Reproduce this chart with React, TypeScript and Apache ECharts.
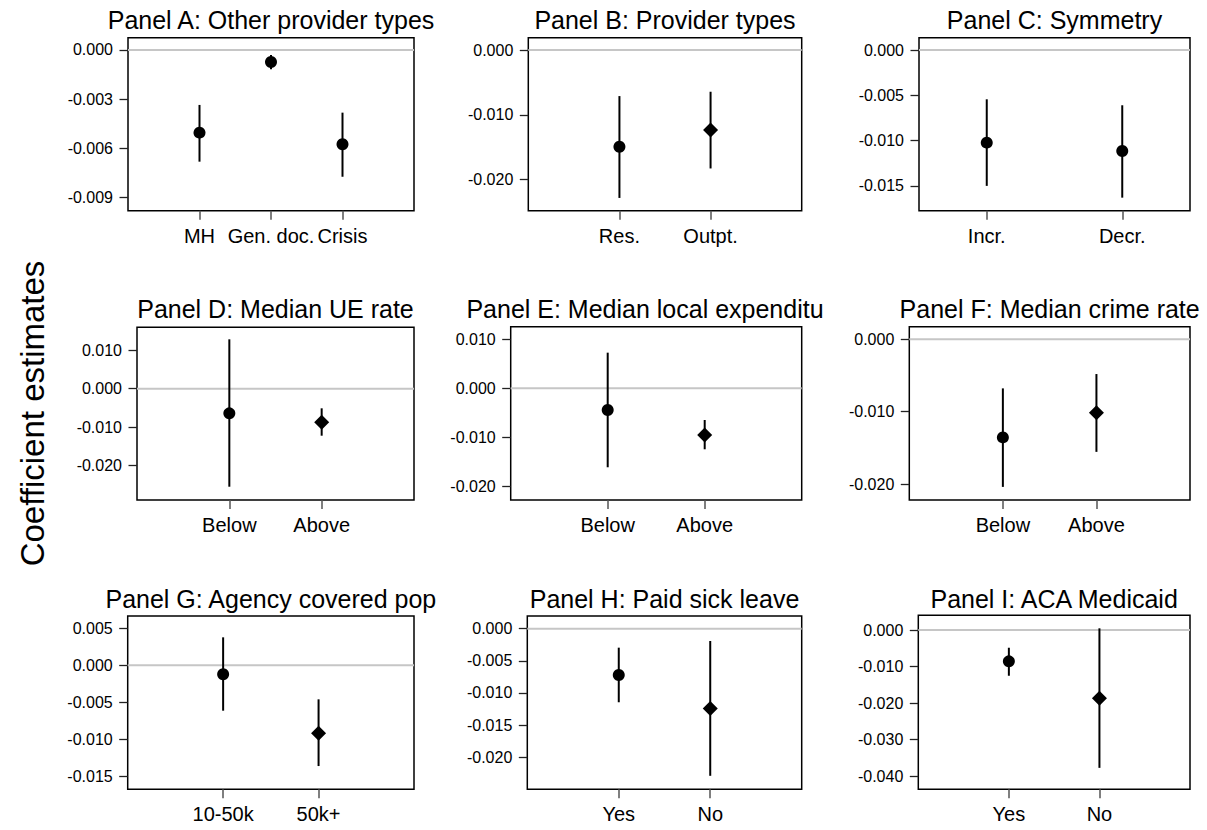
import React, { useEffect, useRef } from "react";
import * as echarts from "echarts";

const FONT = '"Liberation Sans", Arial, Helvetica, sans-serif';

// ---- Panel titles ----
const titles = [
  "Panel A: Other provider types",
  "Panel B: Provider types",
  "Panel C: Symmetry",
  "Panel D: Median UE rate",
  "Panel E: Median local expenditu",
  "Panel F: Median crime rate",
  "Panel G: Agency covered pop",
  "Panel H: Paid sick leave",
  "Panel I: ACA Medicaid",
];

// ---- Panel A: other provider types ----
const catsA = ["MH", "Gen. doc.", "Crisis"];
const estA = [-0.00504, -0.00073, -0.00575];
const lowA = [-0.00681, -0.00118, -0.00773];
const highA = [-0.00335, -0.0003, -0.00382];
const marksA = ["circle", "circle", "circle"];
const ticksA = [0, -0.003, -0.006, -0.009];

// ---- Panel B: provider types ----
const catsB = ["Res.", "Outpt."];
const estB = [-0.01494, -0.01236];
const lowB = [-0.02283, -0.01828];
const highB = [-0.00711, -0.00644];
const marksB = ["circle", "diamond"];
const ticksB = [0, -0.01, -0.02];

// ---- Panel C: symmetry ----
const catsC = ["Incr.", "Decr."];
const estC = [-0.01023, -0.01115];
const lowC = [-0.015, -0.0163];
const highC = [-0.00544, -0.0061];
const marksC = ["circle", "circle"];
const ticksC = [0, -0.005, -0.01, -0.015];

// ---- Panel D: median UE rate ----
const catsD = ["Below", "Above"];
const estD = [-0.00639, -0.00873];
const lowD = [-0.02545, -0.0122];
const highD = [0.01283, -0.00509];
const marksD = ["circle", "diamond"];
const ticksD = [0.01, 0, -0.01, -0.02];

// ---- Panel E: median local expenditure ----
const catsE = ["Below", "Above"];
const estE = [-0.00443, -0.00953];
const lowE = [-0.01612, -0.01245];
const highE = [0.00727, -0.00647];
const marksE = ["circle", "diamond"];
const ticksE = [0.01, 0, -0.01, -0.02];

// ---- Panel F: median crime rate ----
const catsF = ["Below", "Above"];
const estF = [-0.01355, -0.01015];
const lowF = [-0.02039, -0.01555];
const highF = [-0.00678, -0.0048];
const marksF = ["circle", "diamond"];
const ticksF = [0, -0.01, -0.02];

// ---- Panel G: agency covered population ----
const catsG = ["10-50k", "50k+"];
const estG = [-0.00122, -0.00921];
const lowG = [-0.00615, -0.01365];
const highG = [0.00379, -0.00461];
const marksG = ["circle", "diamond"];
const ticksG = [0.005, 0, -0.005, -0.01, -0.015];

// ---- Panel H: paid sick leave ----
const catsH = ["Yes", "No"];
const estH = [-0.0072, -0.01244];
const lowH = [-0.01145, -0.0229];
const highH = [-0.00295, -0.00191];
const marksH = ["circle", "diamond"];
const ticksH = [0, -0.005, -0.01, -0.015, -0.02];

// ---- Panel I: ACA Medicaid ----
const catsI = ["Yes", "No"];
const estI = [-0.00858, -0.01871];
const lowI = [-0.01252, -0.03773];
const highI = [-0.00485, 0.00047];
const marksI = ["circle", "diamond"];
const ticksI = [0, -0.01, -0.02, -0.03, -0.04];

const panels = [
  { cats: catsA, est: estA, low: lowA, high: highA, marks: marksA, ticks: ticksA },
  { cats: catsB, est: estB, low: lowB, high: highB, marks: marksB, ticks: ticksB },
  { cats: catsC, est: estC, low: lowC, high: highC, marks: marksC, ticks: ticksC },
  { cats: catsD, est: estD, low: lowD, high: highD, marks: marksD, ticks: ticksD },
  { cats: catsE, est: estE, low: lowE, high: highE, marks: marksE, ticks: ticksE },
  { cats: catsF, est: estF, low: lowF, high: highF, marks: marksF, ticks: ticksF },
  { cats: catsG, est: estG, low: lowG, high: highG, marks: marksG, ticks: ticksG },
  { cats: catsH, est: estH, low: lowH, high: highH, marks: marksH, ticks: ticksH },
  { cats: catsI, est: estI, low: lowI, high: highI, marks: marksI, ticks: ticksI },
];

// ---- Plot frames (pixel boxes and axis ranges) ----
interface Frame {
  left: number;
  top: number;
  width: number;
  height: number;
  xMin: number;
  xMax: number;
  yMin: number;
  yMax: number;
  titleX?: number;
}

const frames: Frame[] = [
  { left: 128, top: 37.7, width: 286, height: 173, xMin: 0, xMax: 4, yMin: -0.0098, yMax: 0.00075 },
  { left: 528.3, top: 37.7, width: 273.4, height: 173, xMin: 0, xMax: 3, yMin: -0.0248, yMax: 0.0019 },
  { left: 919, top: 37.7, width: 271, height: 173, xMin: 0.5, xMax: 2.5, yMin: -0.01774, yMax: 0.00136 },
  { left: 137, top: 327.3, width: 277, height: 172.7, xMin: 0, xMax: 3, yMin: -0.0289, yMax: 0.01595 },
  { left: 510.7, top: 326.7, width: 291, height: 173.3, xMin: 0, xMax: 3, yMin: -0.0228, yMax: 0.01257, titleX: 645 },
  { left: 909.3, top: 326.7, width: 280.7, height: 173.3, xMin: 0, xMax: 3, yMin: -0.0222, yMax: 0.00174 },
  { left: 127.7, top: 616, width: 286.3, height: 173.3, xMin: 0, xMax: 3, yMin: -0.0168, yMax: 0.00668 },
  { left: 527.3, top: 616, width: 274.4, height: 173.3, xMin: 0, xMax: 3, yMin: -0.025, yMax: 0.00198 },
  { left: 918.3, top: 615.3, width: 271.7, height: 174, xMin: 0, xMax: 3, yMin: -0.0436, yMax: 0.00403 },
];

// vertical centre of the title text in each row
const titleRowY = [19.5, 308.8, 598.5];

const TITLE_SIZE = 25;
const TICK_SIZE = 16;
const CAT_SIZE = 20;

export default function App() {
  const ref = useRef<HTMLDivElement>(null);

  useEffect(() => {
    if (!ref.current) return;
    const chart = echarts.init(ref.current, null, { renderer: "svg" });

    const grid: any[] = [];
    const xAxis: any[] = [];
    const yAxis: any[] = [];
    const series: any[] = [];
    const graphic: any[] = [];

    panels.forEach((p, i) => {
      const f = frames[i];
      const xs = p.cats.map((_, k) => k + 1);

      grid.push({
        left: f.left,
        top: f.top,
        width: f.width,
        height: f.height,
        show: true,
        borderColor: "#000",
        borderWidth: 1.5,
        backgroundColor: "transparent",
      });

      xAxis.push({
        type: "value",
        gridIndex: i,
        position: "bottom",
        min: f.xMin,
        max: f.xMax,
        axisLine: { show: false, onZero: false },
        splitLine: { show: false },
        axisTick: {
          show: true,
          inside: false,
          customValues: xs,
          length: 9,
          lineStyle: { color: "#555", width: 1.5 },
        },
        axisLabel: {
          customValues: xs,
          formatter: (v: number) => p.cats[Math.round(v) - 1] ?? "",
          fontSize: CAT_SIZE,
          fontFamily: FONT,
          color: "#000",
          margin: 15,
        },
      });

      yAxis.push({
        type: "value",
        gridIndex: i,
        position: "left",
        min: f.yMin,
        max: f.yMax,
        axisLine: { show: false, onZero: false },
        splitLine: { show: false },
        axisTick: {
          show: true,
          inside: false,
          customValues: p.ticks,
          length: 8.5,
          lineStyle: { color: "#222", width: 1.3 },
        },
        axisLabel: {
          customValues: p.ticks,
          formatter: (v: number) => (Math.abs(v) < 1e-9 ? "0.000" : v.toFixed(3)),
          fontSize: TICK_SIZE,
          fontFamily: FONT,
          color: "#000",
          margin: 15,
        },
      });

      // reference line at zero
      series.push({
        type: "line",
        xAxisIndex: i,
        yAxisIndex: i,
        data: [
          [f.xMin, 0],
          [f.xMax, 0],
        ],
        symbol: "none",
        silent: true,
        z: 1,
        lineStyle: { color: "#c6c6c6", width: 2 },
      });

      // confidence intervals
      series.push({
        type: "custom",
        xAxisIndex: i,
        yAxisIndex: i,
        silent: true,
        z: 3,
        data: xs.map((x, k) => [x, p.low[k], p.high[k]]),
        encode: { x: 0, y: [1, 2] },
        renderItem: (_params: any, api: any) => {
          const a = api.coord([api.value(0), api.value(1)]);
          const b = api.coord([api.value(0), api.value(2)]);
          return {
            type: "line",
            shape: { x1: a[0], y1: a[1], x2: b[0], y2: b[1] },
            style: { stroke: "#000", lineWidth: 2 },
          };
        },
      });

      // point estimates
      series.push({
        type: "scatter",
        xAxisIndex: i,
        yAxisIndex: i,
        silent: true,
        z: 4,
        itemStyle: { color: "#000", opacity: 1 },
        data: xs.map((x, k) => ({
          value: [x, p.est[k]],
          symbol: p.marks[k],
          symbolSize: p.marks[k] === "diamond" ? 15 : 12,
        })),
      });

      graphic.push({
        type: "text",
        x: f.titleX ?? f.left + f.width / 2,
        y: titleRowY[Math.floor(i / 3)],
        style: {
          text: titles[i],
          fontSize: TITLE_SIZE,
          fontFamily: FONT,
          fill: "#000",
          align: "center",
          verticalAlign: "middle",
        },
      });
    });

    // shared y-axis title
    graphic.push({
      type: "text",
      x: 32,
      y: 413.5,
      rotation: Math.PI / 2,
      style: {
        text: "Coefficient estimates",
        fontSize: 33,
        fontFamily: FONT,
        fill: "#000",
        align: "center",
        verticalAlign: "middle",
      },
    });

    chart.setOption({
      animation: false,
      backgroundColor: "#fff",
      grid,
      xAxis,
      yAxis,
      series,
      graphic,
    });

    return () => chart.dispose();
  }, []);

  return (
    <div
      ref={ref}
      style={{ position: "absolute", left: 0, top: 0, width: 1207, height: 830, background: "#fff" }}
    />
  );
}
